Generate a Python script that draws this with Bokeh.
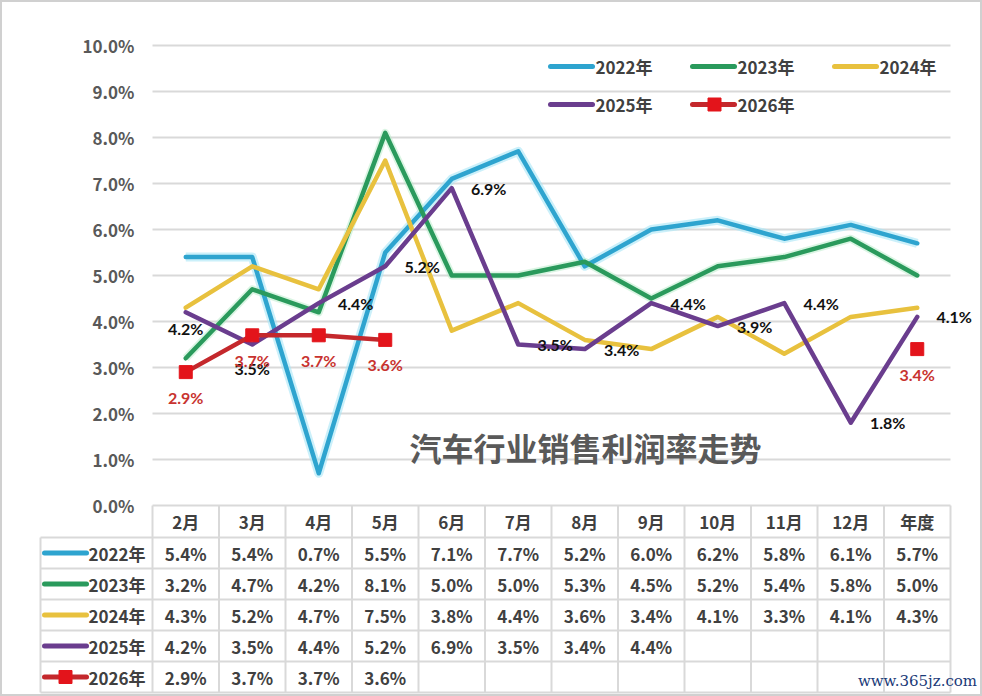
import math
from bokeh.plotting import figure
from bokeh.models import Range1d, LinearAxis, FixedTicker, PrintfTickFormatter
from bokeh.core.properties import value
from bokeh.embed import file_html
from bokeh.resources import INLINE

# ---------------- data ----------------
nan = float("nan")
months = ["2月", "3月", "4月", "5月", "6月", "7月", "8月", "9月", "10月", "11月", "12月", "年度"]
series_names = ["2022年", "2023年", "2024年", "2025年", "2026年"]
y2022 = [5.4, 5.4, 0.7, 5.5, 7.1, 7.7, 5.2, 6.0, 6.2, 5.8, 6.1, 5.7]
y2023 = [3.2, 4.7, 4.2, 8.1, 5.0, 5.0, 5.3, 4.5, 5.2, 5.4, 5.8, 5.0]
y2024 = [4.3, 5.2, 4.7, 7.5, 3.8, 4.4, 3.6, 3.4, 4.1, 3.3, 4.1, 4.3]
y2025 = [4.2, 3.5, 4.4, 5.2, 6.9, 3.5, 3.4, 4.4, 3.9, 4.4, 1.8, 4.1]
y2026 = [2.9, 3.7, 3.7, 3.6, nan, nan, nan, nan, nan, nan, nan, 3.4]
table_counts = [12, 12, 12, 8, 4]   # how many months each series shows in the table
y_ticks = [0, 1, 2, 3, 4, 5, 6, 7, 8, 9, 10]
title_text = "汽车行业销售利润率走势"
watermark_text = "www.365jz.com"

series = [y2022, y2023, y2024, y2025, y2026]
colors = ["#2EA4CF", "#2A9A5C", "#E8C13E", "#6A3D8E", "#C4282C"]
marker_red = "#E3141B"

# ---------------- layout constants (pixels) ----------------
W, H = 982, 696
OX, OY = 0, 0
PX0, CW = 152.0, 66.5      # left edge of first category, column width
PY0, UH = 505.0, 46.0      # page y of 0%, pixels per 1%


def X(px):
    return (px - PX0) / CW


def Y(py):
    return (PY0 - py) / UH


CJK = value("Noto Sans CJK SC")
LBL = value("Lato")
TXT = "#404040"
GRID = "#D9D9D9"

p = figure(width=W, height=H,
           x_range=Range1d(X(OX), X(OX + W)), y_range=Range1d(Y(OY + H), Y(OY)),
           x_axis_type=None, y_axis_type=None,
           toolbar_location=None, output_backend="svg", min_border=0)
p.outline_line_color = "#D0D0D0"
p.outline_line_width = 3
p.background_fill_color = "white"
p.border_fill_color = "white"

ncat = len(months)
xs = [i + 0.5 for i in range(ncat)]

# y axis placed at the left edge of the category area
yax = LinearAxis(ticker=FixedTicker(ticks=y_ticks),
                 formatter=PrintfTickFormatter(format="%.1f%%"),
                 fixed_location=0, bounds=(0, 10),
                 axis_line_color=None, major_tick_line_color=None,
                 minor_tick_line_color=None, major_label_standoff=12,
                 major_label_text_font="Noto Sans CJK SC",
                 major_label_text_font_size="17px",
                 major_label_text_font_style="bold",
                 major_label_text_color="#595959")
p.add_layout(yax, "left")

# gridlines
p.segment(x0=[0] * len(y_ticks), x1=[ncat] * len(y_ticks), y0=y_ticks, y1=y_ticks,
          line_color=GRID, line_width=2)

# ---------------- data table ----------------
header_bottom = 537
row_h = 31
row_bounds = [header_bottom + row_h * k for k in range(len(series_names) + 1)]
leg_left = 40
# horizontal lines
p.segment(x0=[X(leg_left)] * len(row_bounds), x1=[ncat] * len(row_bounds),
          y0=[Y(r) for r in row_bounds], y1=[Y(r) for r in row_bounds],
          line_color=GRID, line_width=2)
# vertical lines
vx = list(range(ncat + 1))
p.segment(x0=vx, x1=vx, y0=[0] * len(vx), y1=[Y(row_bounds[-1])] * len(vx),
          line_color=GRID, line_width=2)
p.segment(x0=[X(leg_left)], x1=[X(leg_left)], y0=[Y(row_bounds[0])], y1=[Y(row_bounds[-1])],
          line_color=GRID, line_width=2)

# header
p.text(x=xs, y=[Y((PY0 + header_bottom) / 2)] * ncat, text=months,
       text_font=CJK, text_font_size="17px", text_font_style="bold", text_color=TXT,
       text_align="center", text_baseline="middle")

for k, (name, ys, c, n) in enumerate(zip(series_names, series, colors, table_counts)):
    cy = Y(row_bounds[k] + row_h / 2)
    vals = [f"{v:.1f}%" for v in ys[:n]]
    p.text(x=xs[:n], y=[cy] * n, text=vals,
           text_font=CJK, text_font_size="17px", text_font_style="bold", text_color=TXT,
           text_align="center", text_baseline="middle")
    # legend key in table
    p.segment(x0=[X(44)], x1=[X(86)], y0=[cy], y1=[cy], line_color=c, line_width=5,
              line_cap="round")
    if k == 4:
        p.scatter(x=[X(65)], y=[cy], marker="square", size=13, fill_color=marker_red,
                  line_color=marker_red)
    p.text(x=[X(88)], y=[cy], text=[name],
           text_font=CJK, text_font_size="17px", text_font_style="bold", text_color=TXT,
           text_align="left", text_baseline="middle")

# ---------------- lines ----------------
# soft glow for the first two series
p.line(x=xs, y=y2022, line_color="#A8E6F7", line_width=9, line_alpha=0.6, line_join="round")
p.line(x=xs, y=y2023, line_color="#B5EBC8", line_width=8, line_alpha=0.5, line_join="round")
for ys, c in zip(series, colors):
    p.line(x=xs, y=ys, line_color=c, line_width=4.5, line_join="round", line_cap="round")
p.scatter(x=xs, y=y2026, marker="square", size=13, fill_color=marker_red, line_color=marker_red)

# ---------------- data labels ----------------
lab25 = [f"{v:.1f}%" for v in y2025]
below_idx = [0, 1]
below_off = [16, 24]
right_idx = [i for i in range(ncat) if i not in below_idx]
p.text(x=[xs[i] for i in below_idx],
       y=[y2025[i] - off / UH for i, off in zip(below_idx, below_off)],
       text=[lab25[i] for i in below_idx],
       text_font=LBL, text_font_size="16px", text_font_style="bold", text_color="#111111",
       text_align="center", text_baseline="middle")
p.text(x=[xs[i] + 37 / CW for i in right_idx], y=[y2025[i] for i in right_idx],
       text=[lab25[i] for i in right_idx],
       text_font=LBL, text_font_size="16px", text_font_style="bold", text_color="#111111",
       text_align="center", text_baseline="middle")
idx26 = [i for i, v in enumerate(y2026) if not math.isnan(v)]
p.text(x=[xs[i] for i in idx26], y=[y2026[i] - 25 / UH for i in idx26],
       text=[f"{y2026[i]:.1f}%" for i in idx26],
       text_font=LBL, text_font_size="16px", text_font_style="bold", text_color="#C8332F",
       text_align="center", text_baseline="middle")

# ---------------- top legend ----------------
leg_x = [550, 692, 834, 550, 692]
leg_y = [66, 66, 66, 104, 104]
for name, c, lx, ly, k in zip(series_names, colors, leg_x, leg_y, range(5)):
    p.segment(x0=[X(lx)], x1=[X(lx + 42)], y0=[Y(ly)], y1=[Y(ly)], line_color=c,
              line_width=5, line_cap="round")
    if k == 4:
        p.scatter(x=[X(lx + 22)], y=[Y(ly)], marker="square", size=13,
                  fill_color=marker_red, line_color=marker_red)
    p.text(x=[X(lx + 45)], y=[Y(ly)], text=[name],
           text_font=CJK, text_font_size="17px", text_font_style="bold", text_color=TXT,
           text_align="left", text_baseline="middle")

# ---------------- title & watermark ----------------
p.text(x=[X(585)], y=[Y(446)], text=[title_text],
       text_font=CJK, text_font_size="32px", text_font_style="bold", text_color="#595959",
       text_align="center", text_baseline="middle")
p.text(x=[X(917)], y=[Y(680)], text=[watermark_text],
       text_font=value("DejaVu Serif"), text_font_size="15px", text_color="#1B3A78",
       text_align="center", text_baseline="middle")

open("out.html", "w").write(file_html(p, INLINE))
